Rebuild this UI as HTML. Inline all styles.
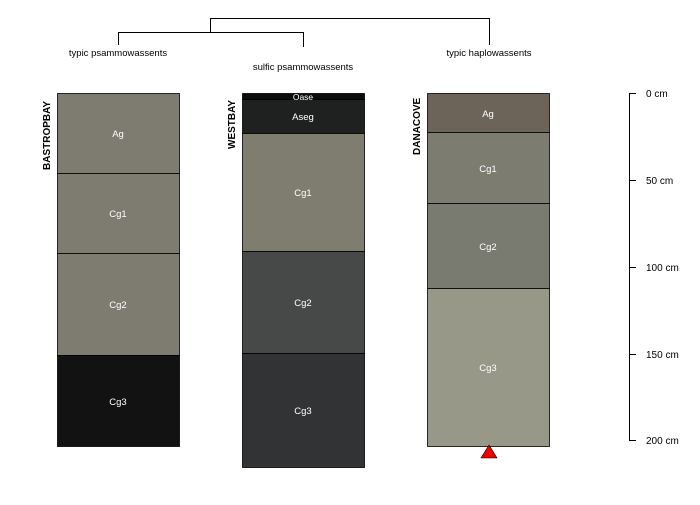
<!DOCTYPE html>
<html><head><style>body{margin:0;background:#fff}</style></head><body>
<svg width="700" height="500" xmlns="http://www.w3.org/2000/svg" font-family="Liberation Sans, sans-serif">
<rect width="700" height="500" fill="#fff"/>
<g stroke="#000" stroke-width="1" fill="none">
<path d="M210.5 32V18.5H489.5V45"/>
<path d="M118.5 45V32.5H303.5V47"/>
</g>
<g font-size="9.5" fill="#000" text-anchor="middle">
<text x="118" y="56">typic psammowassents</text>
<text x="303" y="70">sulfic psammowassents</text>
<text x="489" y="56">typic haplowassents</text>
</g>
<g stroke="#000" stroke-width="0.8">
<rect x="57.5" y="93.5" width="122" height="80" fill="#7e7b70"/>
<rect x="57.5" y="173.5" width="122" height="80" fill="#7e7b70"/>
<rect x="57.5" y="253.5" width="122" height="102" fill="#7e7b70"/>
<rect x="57.5" y="355.5" width="122" height="91" fill="#111211"/>
<rect x="242.5" y="93.5" width="122" height="6" fill="#0b0c0c"/>
<rect x="242.5" y="99.5" width="122" height="34" fill="#1f2120"/>
<rect x="242.5" y="133.5" width="122" height="118" fill="#7e7d70"/>
<rect x="242.5" y="251.5" width="122" height="102" fill="#474948"/>
<rect x="242.5" y="353.5" width="122" height="114" fill="#323335"/>
<rect x="427.5" y="93.5" width="122" height="39" fill="#6c6458"/>
<rect x="427.5" y="132.5" width="122" height="71" fill="#7d7c70"/>
<rect x="427.5" y="203.5" width="122" height="85" fill="#797b70"/>
<rect x="427.5" y="288.5" width="122" height="158" fill="#979888"/>
</g>
<g font-size="9.5" fill="#fff" text-anchor="middle">
<text x="118" y="137">Ag</text>
<text x="118" y="217">Cg1</text>
<text x="118" y="308">Cg2</text>
<text x="118" y="405">Cg3</text>
<text x="303" y="100" font-size="8.5">Oase</text>
<text x="303" y="120">Aseg</text>
<text x="303" y="196">Cg1</text>
<text x="303" y="306">Cg2</text>
<text x="303" y="414">Cg3</text>
<text x="488" y="117">Ag</text>
<text x="488" y="172">Cg1</text>
<text x="488" y="250">Cg2</text>
<text x="488" y="371">Cg3</text>
</g>
<g font-size="10" font-weight="bold" fill="#000">
<text transform="translate(50,170) rotate(-90)">BASTROPBAY</text>
<text transform="translate(235,149) rotate(-90)">WESTBAY</text>
<text transform="translate(420,155) rotate(-90)">DANACOVE</text>
</g>
<polygon points="489,445 481,458 497,458" fill="#e00" stroke="#000" stroke-width="0.6"/>
<g stroke="#000" stroke-width="1">
<line x1="629.5" y1="93" x2="629.5" y2="440"/>
<line x1="629" y1="93.5" x2="636" y2="93.5"/>
<line x1="629" y1="180.5" x2="636" y2="180.5"/>
<line x1="629" y1="267.5" x2="636" y2="267.5"/>
<line x1="629" y1="354.5" x2="636" y2="354.5"/>
<line x1="629" y1="440.5" x2="636" y2="440.5"/>
</g>
<g font-size="10" fill="#000">
<text x="646" y="97">0 cm</text>
<text x="646" y="184">50 cm</text>
<text x="646" y="271">100 cm</text>
<text x="646" y="358">150 cm</text>
<text x="646" y="444">200 cm</text>
</g>
</svg>
</body></html>
